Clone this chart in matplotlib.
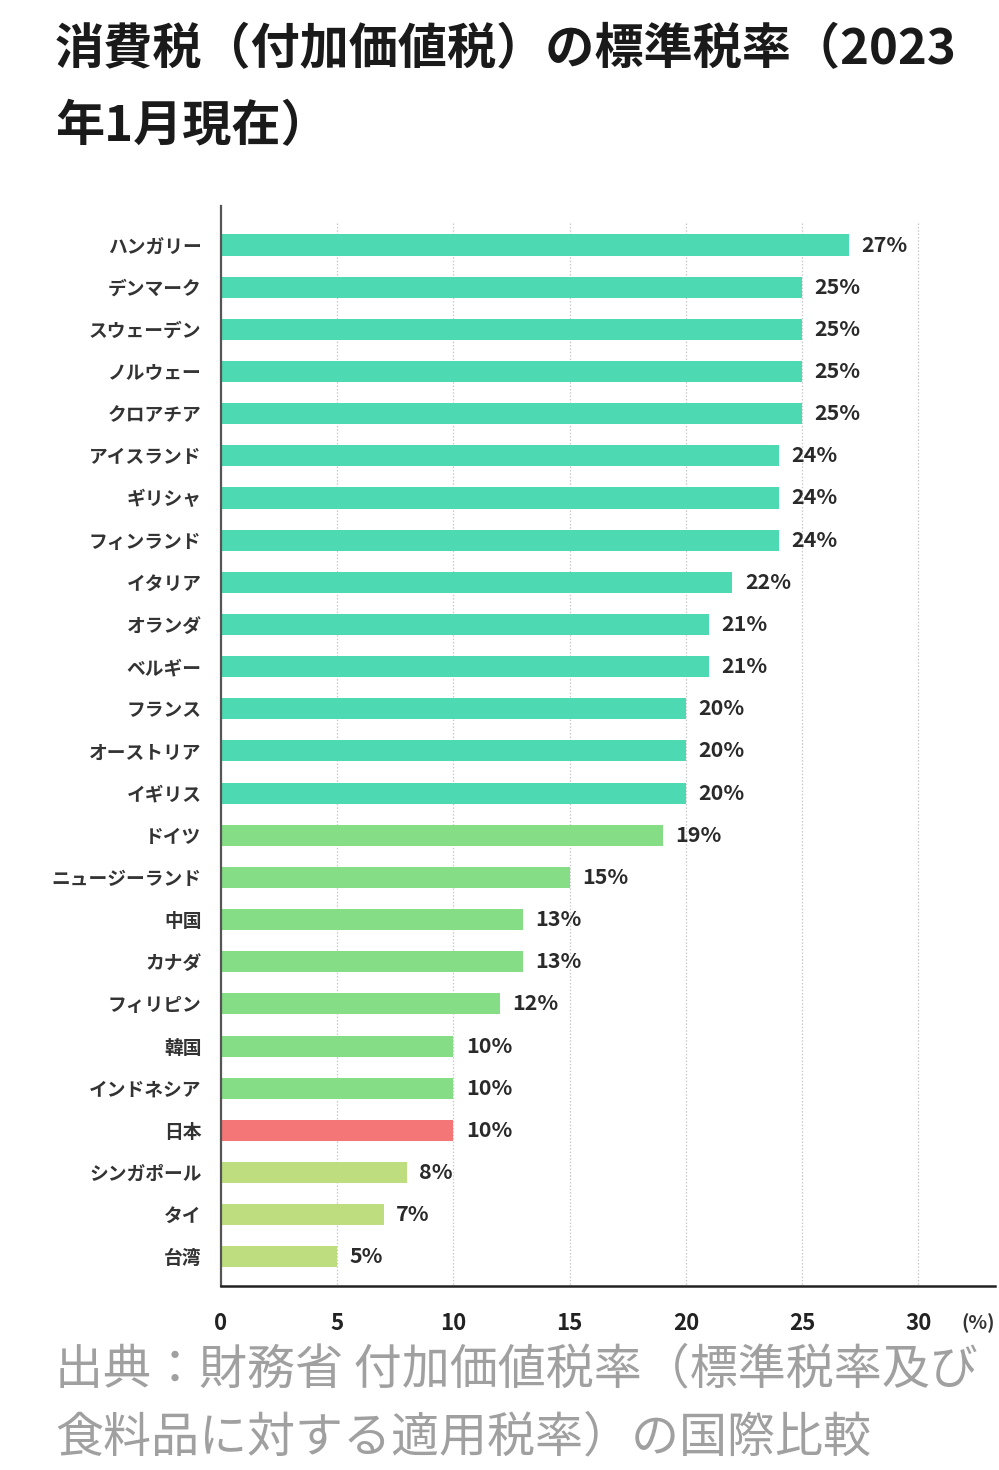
import matplotlib
matplotlib.use("Agg")
import matplotlib.pyplot as plt

plt.rcParams['font.family'] = ['Noto Sans CJK JP', 'DejaVu Sans']

countries = ["ハンガリー", "デンマーク", "スウェーデン", "ノルウェー", "クロアチア",
             "アイスランド", "ギリシャ", "フィンランド", "イタリア", "オランダ",
             "ベルギー", "フランス", "オーストリア", "イギリス", "ドイツ",
             "ニュージーランド", "中国", "カナダ", "フィリピン", "韓国",
             "インドネシア", "日本", "シンガポール", "タイ", "台湾"]
rates = [27, 25, 25, 25, 25, 24, 24, 24, 22, 21, 21, 20, 20, 20, 19,
         15, 13, 13, 12, 10, 10, 10, 8, 7, 5]
xticks = [0, 5, 10, 15, 20, 25, 30]
highlight = "日本"


def bar_color(name, v):
    if name == highlight:
        return "#f47676"
    if v >= 20:
        return "#4dd9b1"
    if v >= 10:
        return "#85de85"
    return "#bddd7f"


fig = plt.figure(figsize=(9.99, 14.70), dpi=100)
ax = fig.add_axes([221/999, 1 - 1286/1470, (995 - 221)/999, (1286 - 206)/1470])

pos = list(range(len(countries)))
colors = [bar_color(c, v) for c, v in zip(countries, rates)]
ax.barh(pos, rates, height=0.5, color=colors, zorder=2)

n = len(countries)
ax.set_ylim(n - 1 + 0.69, -0.925)
ax.set_xlim(0, 33.3)

ax.vlines(xticks[1:], -0.52, n - 1 + 0.69, colors="#c8c8c8",
          linestyles=(0, (1.2, 1.5)), linewidth=0.9, zorder=1)

for p, v in zip(pos, rates):
    ax.annotate(f"{v}%", (v, p), xytext=(9, 0), textcoords="offset points",
                va="center", ha="left", fontsize=15.5, fontweight="bold",
                color="#2a2a2a")

ax.set_yticks(pos)
ax.set_yticklabels(countries, fontsize=13.5, fontweight="bold", color="#333333")
ax.set_xticks(xticks)
ax.set_xticklabels([str(t) for t in xticks], fontsize=16, fontweight="bold",
                   color="#222222")
ax.tick_params(axis="y", length=0, pad=14)
ax.tick_params(axis="x", length=0, pad=19)

for s in ["top", "right"]:
    ax.spines[s].set_visible(False)
ax.spines["left"].set_color("#555555")
ax.spines["left"].set_linewidth(1.6)
ax.spines["bottom"].set_color("#222222")
ax.spines["bottom"].set_linewidth(1.8)

fig.text(978/999, 1 - 1323/1470, "(%)", ha="center", va="center",
         fontsize=14, fontweight="bold", color="#333333")

fig.text(55/999, 1 - 50/1470, "消費税（付加価値税）の標準税率（2023",
         ha="left", va="center", fontsize=35.4, fontweight="bold", color="#1a1a1a")
fig.text(55/999, 1 - 127/1470, "年1月現在）",
         ha="left", va="center", fontsize=35.4, fontweight="bold", color="#1a1a1a")

fig.text(55/999, 1 - 1370/1470, "出典：財務省 付加価値税率（標準税率及び",
         ha="left", va="center", fontsize=34.6, color="#a0a0a0")
fig.text(55/999, 1 - 1438/1470, "食料品に対する適用税率）の国際比較",
         ha="left", va="center", fontsize=34.6, color="#a0a0a0")

fig.savefig("out.png", dpi=100, facecolor="white")
